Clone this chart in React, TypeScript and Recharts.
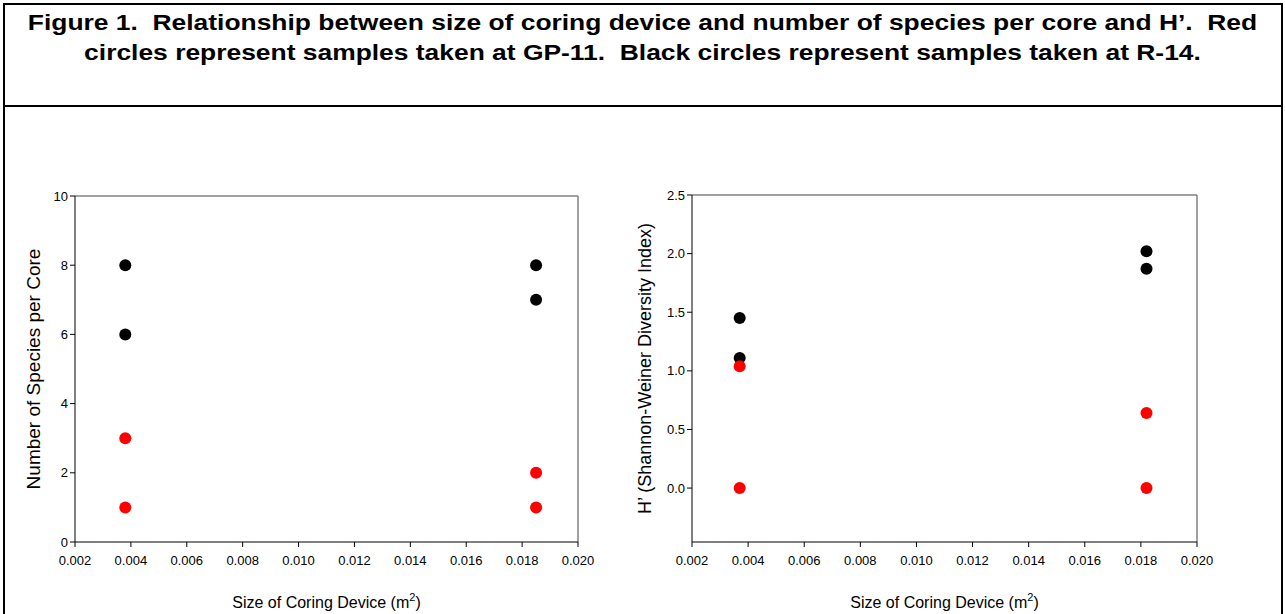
import { ScatterChart, Scatter, XAxis, YAxis, ReferenceLine, Label } from "recharts"

// core sizes (m2) as plotted in each panel
const coreSizesSpecies = [0.0038, 0.0038, 0.0185, 0.0185]
const coreSizesDiversity = [0.0037, 0.0037, 0.0182, 0.0182]

// GP-11 (red) and R-14 (black)
const speciesGP11 = [3, 1, 2, 1]
const speciesR14 = [8, 6, 8, 7]
const diversityGP11 = [1.04, 0, 0.64, 0]
const diversityR14 = [1.45, 1.11, 2.02, 1.87]

const xTicks = [0.002, 0.004, 0.006, 0.008, 0.01, 0.012, 0.014, 0.016, 0.018, 0.02]
const speciesTicks = [0, 2, 4, 6, 8, 10]
const diversityTicks = [0, 0.5, 1, 1.5, 2, 2.5]

const toPoints = (xs: number[], ys: number[]) => ys.map((y, i) => ({ x: xs[i], y }))

const font = "Arial, 'Liberation Sans', sans-serif"
const tickStyle = { fill: "#000", fontSize: 13, fontFamily: font }

const dot = (color: string) => (props: any) => (
  <circle cx={props.cx} cy={props.cy} r={6} fill={color} />
)

const XTitle = (props: any) => {
  const { viewBox } = props
  const cx = viewBox.x + viewBox.width / 2
  return (
    <text x={cx} y={viewBox.y + 66} textAnchor="middle" fontSize={16} fontFamily={font} fill="#000">
      Size of Coring Device (m<tspan dy={-7} fontSize={11}>2</tspan><tspan dy={7}>)</tspan>
    </text>
  )
}

function Panel({ xs, red, black, domain, ticks, yLabel, labelSize, fmt, labelX, left, width, margin, yw }: any) {
  return (
    <div style={{ position: "absolute", left, top: 110 }}>
      <ScatterChart width={width} height={504} margin={margin}>
        <XAxis
          type="number"
          dataKey="x"
          domain={[0.002, 0.02]}
          ticks={xTicks}
          tickFormatter={(v: number) => v.toFixed(3)}
          tick={tickStyle}
          stroke="#000"
          tickSize={5}
          tickMargin={9}
          height={60}
          allowDataOverflow
        >
          <Label content={<XTitle />} />
        </XAxis>
        <YAxis
          type="number"
          dataKey="y"
          domain={domain}
          ticks={ticks}
          tickFormatter={fmt}
          tick={tickStyle}
          stroke="#000"
          tickSize={5}
          width={yw}
          allowDataOverflow
        >
          <Label
            value={yLabel}
            angle={-90}
            position="insideLeft"
            offset={0}
            dx={labelX}
            style={{ textAnchor: "middle", fontSize: labelSize, fontFamily: font, fill: "#000" }}
          />
        </YAxis>
        <ReferenceLine y={domain[1]} stroke="#808080" strokeWidth={1.5} />
        <ReferenceLine x={0.02} stroke="#808080" strokeWidth={1.5} />
        <Scatter data={toPoints(xs, black)} fill="#000" shape={dot("#000")} isAnimationActive={false} />
        <Scatter data={toPoints(xs, red)} fill="#ff0000" shape={dot("#ff0000")} isAnimationActive={false} />
      </ScatterChart>
    </div>
  )
}

export default function App() {
  return (
    <div style={{ position: "absolute", left: 0, top: 0, width: 1285, height: 614, background: "#fff", overflow: "hidden" }}>
      <div
        style={{
          position: "absolute",
          left: 3,
          top: 3,
          width: 1276,
          height: 611,
          borderLeft: "2px solid #000",
          borderRight: "2px solid #000",
          borderTop: "2px solid #000",
        }}
      />
      <div style={{ position: "absolute", left: 3, top: 105, width: 1280, height: 2, background: "#000" }} />
      <div
        style={{
          position: "absolute",
          left: 0,
          top: 8,
          width: 1285,
          textAlign: "center",
          fontFamily: font,
          fontWeight: "bold",
          fontSize: 22,
          lineHeight: "30px",
          color: "#000",
          transform: "scaleX(1.2)",
          transformOrigin: "center",
          whiteSpace: "nowrap",
        }}
      >
        Figure 1.&nbsp; Relationship between size of coring device and number of species per core and H’.&nbsp; Red
        <br />
        circles represent samples taken at GP-11.&nbsp; Black circles represent samples taken at R-14.
      </div>
      <Panel
        xs={coreSizesSpecies}
        red={speciesGP11}
        black={speciesR14}
        domain={[0, 10]}
        ticks={speciesTicks}
        fmt={(v: number) => String(v)}
        yLabel="Number of Species per Core"
        labelSize={19}
        labelX={18}
        left={0}
        width={640}
        yw={60}
        margin={{ top: 86, right: 62, bottom: 12, left: 15 }}
      />
      <Panel
        xs={coreSizesDiversity}
        red={diversityGP11}
        black={diversityR14}
        domain={[-0.46, 2.5]}
        ticks={diversityTicks}
        fmt={(v: number) => v.toFixed(1)}
        yLabel="H’ (Shannon-Weiner Diversity Index)"
        labelSize={18}
        labelX={5}
        left={600}
        width={685}
        yw={52}
        margin={{ top: 85, right: 88, bottom: 12, left: 40 }}
      />
    </div>
  )
}
